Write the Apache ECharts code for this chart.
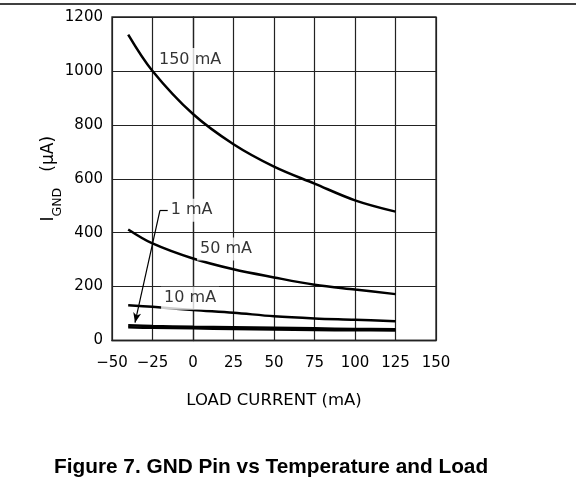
<!DOCTYPE html>
<html>
<head>
<meta charset="utf-8">
<script src="https://cdn.jsdelivr.net/npm/echarts@6/dist/echarts.min.js"></script>
<style>
html,body{margin:0;padding:0;background:#fff;}
#chart{width:576px;height:489px;}
</style>
</head>
<body>
<div id="chart"></div>
<script>
// Temperature points (x axis values)
const temps = [-40, -25, 0, 25, 50, 75, 100, 125];
// Ground current (µA) per load
const load150 = [1135, 1000, 840, 728, 645, 582, 520, 478];
const load50  = [412, 360, 304, 264, 234, 207, 189, 172];
const load10  = [131, 125, 113, 103, 90, 82, 77, 71];
const load1   = [57, 54, 51, 49, 47, 45, 43, 42];
const load0   = [49, 47, 45, 43, 41, 39, 38, 37];
// Axis ticks
const xTicks = [-50, -25, 0, 25, 50, 75, 100, 125, 150];
const yTicks = [0, 200, 400, 600, 800, 1000, 1200];
// Curve annotations [x, y, text] in data units
const curveLabels = [
  [-1.8, 1042, '150 mA'],
  [20.4, 339, '50 mA'],
  [-1.8, 157, '10 mA'],
  [-0.9, 483, '1 mA']
];
// Leader for "1 mA" label (data units)
const leaderStart = [-15.4, 483];
const leaderCorner = [-20.4, 483];
const leaderTip = [-35.8, 66];

function curve(name, vals) {
  return {
    name: name,
    type: 'line',
    smooth: 0.35,
    showSymbol: false,
    symbol: 'none',
    lineStyle: {color: '#000', width: 2.5},
    data: temps.map((t, i) => [t, vals[i]]),
    z: 3
  };
}

const chart = echarts.init(document.getElementById('chart'));
const font = 'DejaVu Sans';
const option = {
  animation: false,
  backgroundColor: '#fff',
  title: {
    text: 'Figure 7. GND Pin vs Temperature and Load',
    left: 49,
    top: 452,
    textStyle: {fontFamily: 'Liberation Sans, Arial', fontWeight: 'bold', fontSize: 20.8, color: '#000'}
  },
  graphic: [{
    type: 'line',
    shape: {x1: 0, y1: 4, x2: 576, y2: 4},
    style: {stroke: '#000', lineWidth: 1.5}
  }],
  grid: {
    left: 112, right: 140, top: 17, bottom: 148.5,
    show: true, borderColor: '#222', borderWidth: 1.3, backgroundColor: 'transparent'
  },
  xAxis: {
    type: 'value',
    min: xTicks[0], max: xTicks[xTicks.length - 1], interval: 25,
    name: 'LOAD CURRENT (mA)',
    nameLocation: 'middle',
    nameGap: 52,
    nameMoveOverlap: false,
    nameTextStyle: {fontFamily: font, fontSize: 16.5, color: '#000'},
    axisLine: {show: true, lineStyle: {color: '#222', width: 1.3}},
    axisTick: {show: false},
    splitLine: {show: true, lineStyle: {color: '#222', width: 1.2}},
    axisLabel: {fontFamily: font, fontSize: 15, color: '#000', margin: 15,
      formatter: v => (v < 0 ? '\u2212' + Math.abs(v) : '' + v)}
  },
  yAxis: {
    type: 'value',
    min: yTicks[0], max: yTicks[yTicks.length - 1], interval: 200,
    name: '{a|I}{b|GND}{a|   (\u00b5A)}',
    nameLocation: 'middle',
    nameGap: 48,
    nameMoveOverlap: false,
    nameRotate: 90,
    nameTextStyle: {
      color: '#000',
      rich: {
        a: {fontFamily: font, fontSize: 17, color: '#000', verticalAlign: 'top', lineHeight: 24},
        b: {fontFamily: font, fontSize: 12.5, color: '#000', verticalAlign: 'bottom', lineHeight: 24, padding: [7, 0, 0, 0]}
      }
    },
    axisLine: {show: true, lineStyle: {color: '#222', width: 1.3}},
    axisTick: {show: false},
    splitLine: {show: true, lineStyle: {color: '#222', width: 1.2}},
    axisLabel: {fontFamily: font, fontSize: 15, color: '#000', margin: 9,
      formatter: v => '' + v}
  },
  series: [
    curve('150 mA', load150),
    curve('50 mA', load50),
    curve('10 mA', load10),
    curve('1 mA', load1),
    Object.assign(curve('0 mA', load0), {
      markLine: {
        silent: true,
        symbol: ['none', 'arrow'],
        symbolSize: [6, 10],
        label: {show: false},
        lineStyle: {color: '#000', width: 1.2, type: 'solid'},
        data: [
          [{coord: leaderStart, symbol: 'none'}, {coord: leaderCorner, symbol: 'none'}],
          [{coord: leaderCorner, symbol: 'none'}, {coord: leaderTip, symbol: 'arrow'}]
        ]
      }
    }),
    {
      type: 'scatter',
      symbolSize: 1,
      itemStyle: {color: 'rgba(0,0,0,0)'},
      z: 5,
      data: curveLabels.map(d => [d[0], d[1], d[2]]),
      label: {
        show: true,
        position: 'inside',
        formatter: p => p.data[2],
        fontFamily: font,
        fontSize: 16,
        color: '#000',
        backgroundColor: '#fff',
        padding: [4, 3, 3, 3]
      }
    }
  ]
};
chart.setOption(option);
</script>
</body>
</html>
